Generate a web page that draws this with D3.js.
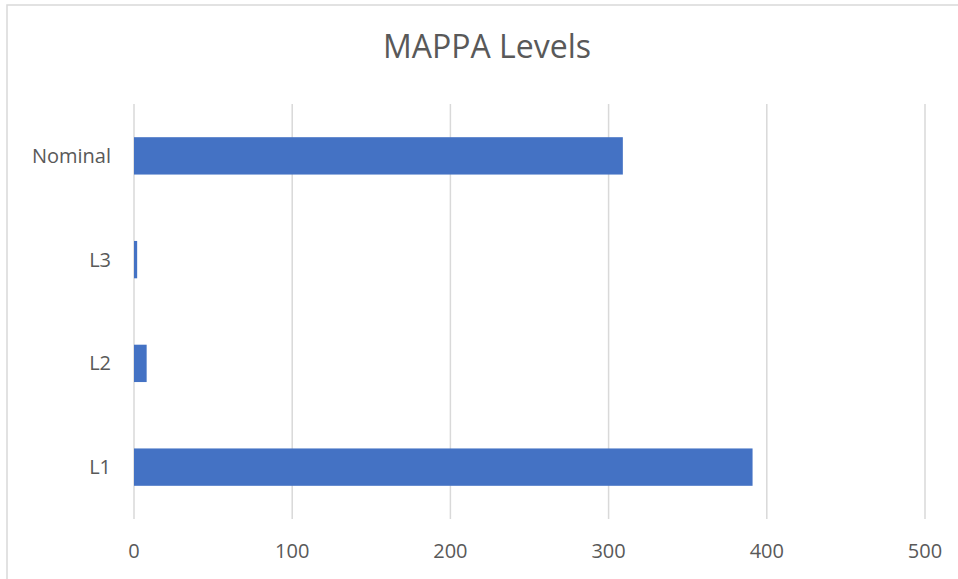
<!DOCTYPE html>
<html>
<head>
<meta charset="utf-8">
<script src="https://cdn.jsdelivr.net/npm/d3@7"></script>
<style>
    body { margin: 0; background: #fff; }
    text { font-family: "Open Sans", sans-serif; fill: #595959; }
</style>
</head>
<body>
<div id="chart"></div>
<script>
// ============================================
// MAPPA LEVELS — horizontal bar chart
// ============================================
const categories = ['Nominal', 'L3', 'L2', 'L1'];
const values = [309, 2, 8, 391];
const xTicks = [0, 100, 200, 300, 400, 500];

const width = 958;
const height = 579;
const margin = { top: 104, right: 33, bottom: 60, left: 134 };

const svg = d3.select('#chart')
    .append('svg')
    .attr('width', width)
    .attr('height', height);

// Chart frame
svg.append('rect')
    .attr('x', 7)
    .attr('y', 5)
    .attr('width', width + 10)
    .attr('height', height + 10)
    .attr('fill', 'none')
    .attr('stroke', '#d9d9d9')
    .attr('stroke-width', 1.5);

const x = d3.scaleLinear()
    .domain([0, 500])
    .range([margin.left, width - margin.right]);

const y = d3.scaleBand()
    .domain(categories)
    .range([margin.top, height - margin.bottom])
    .paddingInner(0.64)
    .paddingOuter(0.32);

// Title
svg.append('text')
    .attr('x', 487)
    .attr('y', 58)
    .attr('text-anchor', 'middle')
    .style('font-size', '32px')
    .text('MAPPA Levels');

// Gridlines
svg.append('g')
    .selectAll('line')
    .data(xTicks)
    .enter()
    .append('line')
    .attr('x1', d => x(d))
    .attr('x2', d => x(d))
    .attr('y1', margin.top)
    .attr('y2', height - margin.bottom)
    .attr('stroke', '#d9d9d9')
    .attr('stroke-width', 1.5);

// Bars
svg.append('g')
    .selectAll('rect')
    .data(categories)
    .enter()
    .append('rect')
    .attr('x', x(0))
    .attr('y', d => y(d))
    .attr('width', (d, i) => x(values[i]) - x(0))
    .attr('height', y.bandwidth())
    .attr('fill', '#4472C4');

// X axis labels
svg.append('g')
    .selectAll('text')
    .data(xTicks)
    .enter()
    .append('text')
    .attr('x', d => x(d))
    .attr('y', 558)
    .attr('text-anchor', 'middle')
    .style('font-size', '20px')
    .text(d => d);

// Category labels
svg.append('g')
    .selectAll('text')
    .data(categories)
    .enter()
    .append('text')
    .attr('x', 111)
    .attr('y', d => y(d) + y.bandwidth() / 2)
    .attr('dy', '0.35em')
    .attr('text-anchor', 'end')
    .style('font-size', '20px')
    .text(d => d);
</script>
</body>
</html>
